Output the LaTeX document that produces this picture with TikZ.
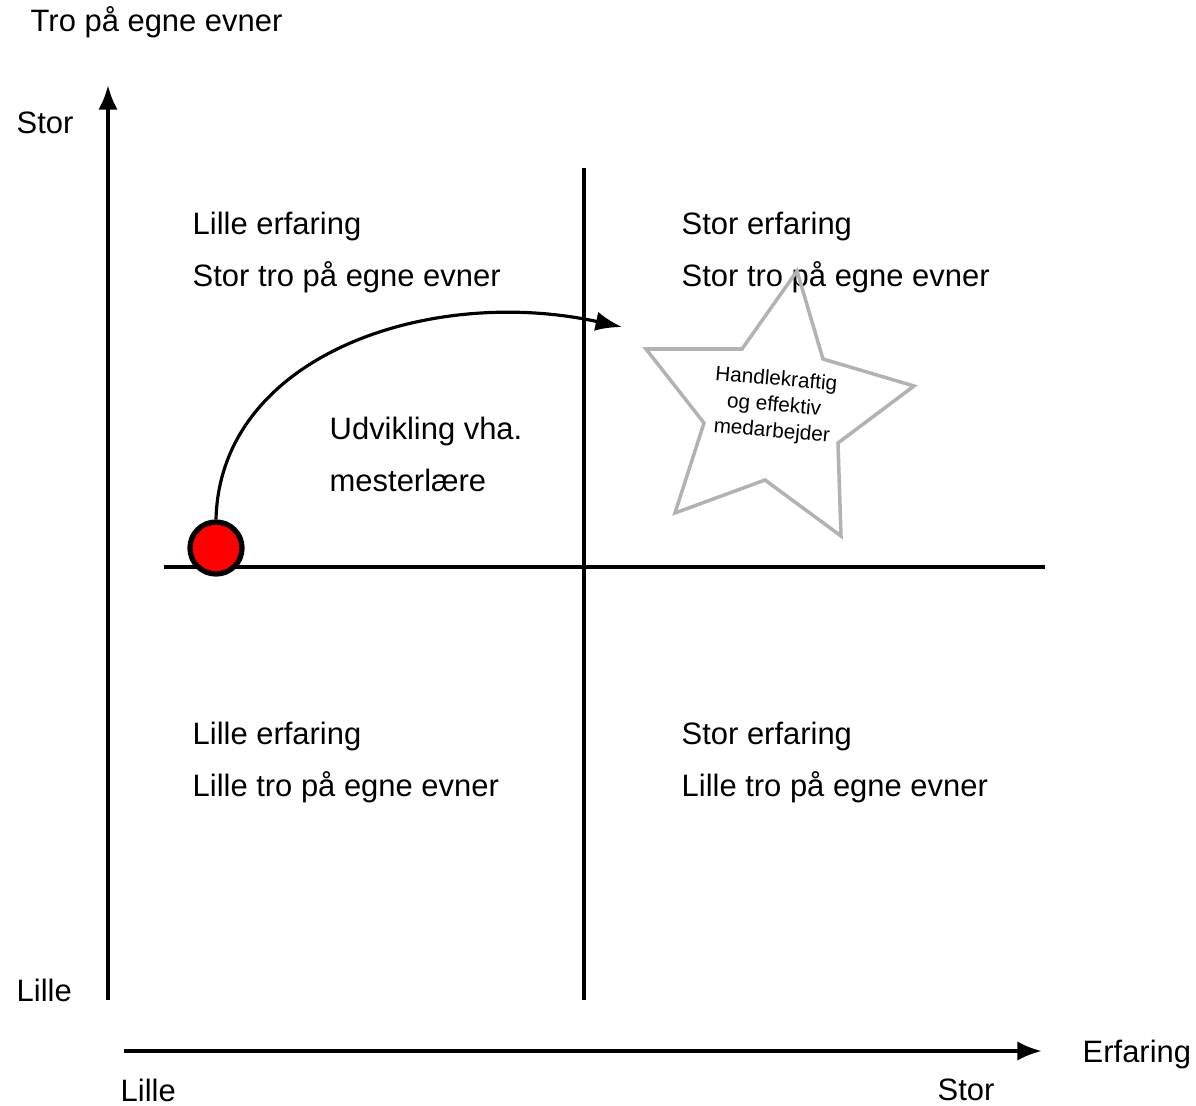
\documentclass[tikz,border=0pt]{standalone}
\usepackage{fontspec}
\setmainfont{Liberation Sans}
\usetikzlibrary{arrows.meta}
\tikzset{
  lbl/.style={inner sep=0pt,font=\fontsize{8.8}{14.8}\selectfont},
  quad/.style={lbl,anchor=north west,align=left},
  axis/.style={line width=1.1pt,-{Latex[length=7pt,width=5.5pt]}},
  divider/.style={line width=1.1pt}
}
\begin{document}
\begin{tikzpicture}[x=0.01cm,y=-0.01cm]
    \useasboundingbox (0,0) rectangle (1196,1106);
    % axes
    \coordinate (yfoot) at (108,1000);
    \coordinate (ytop) at (108,85);
    \coordinate (xfoot) at (124,1051);
    \coordinate (xend) at (1042,1051);
    \draw[axis] (yfoot) -- (ytop);
    \draw[axis] (xfoot) -- (xend);
    \node[lbl,anchor=west] (ytitle) at (30,22) {Tro på egne evner};
    \node[lbl,anchor=west] (ystor) at (16,123) {Stor};
    \node[lbl,anchor=west] (ylille) at (16,990) {Lille};
    \node[lbl,anchor=west] (xlille) at (120,1090) {Lille};
    \node[lbl,anchor=west] (xstor) at (937,1090) {Stor};
    \node[lbl,anchor=west] (xtitle) at (1082,1054) {Erfaring};
    % quadrant lines
    \coordinate (vtop) at (584,168);
    \coordinate (vfoot) at (584,1000);
    \coordinate (hleft) at (164,567);
    \coordinate (hright) at (1045,567);
    \draw[divider] (vtop) -- (vfoot);
    \draw[divider] (hleft) -- (hright);
    % quadrant texts
    \node[quad] (q1) at (192,211) {Lille erfaring\\Stor tro på egne evner};
    \node[quad] (q2) at (681,211) {Stor erfaring\\Stor tro på egne evner};
    \node[quad] (q3) at (192,721) {Lille erfaring\\Lille tro på egne evner};
    \node[quad] (q4) at (681,721) {Stor erfaring\\Lille tro på egne evner};
    \node[quad] (udv) at (329,416) {Udvikling vha.\\mesterlære};
    % star
    \draw[gray!60,line width=1pt,line join=miter] (797,271) -- (823,359) -- (914,386) -- (838,443)
        -- (841,536) -- (765,480) -- (675,513) -- (704,423) -- (646,349) -- (742,349) -- cycle;
    \node[inner sep=0pt,align=center,rotate=-5,font=\fontsize{5.9}{7.4}\selectfont] (goal)
        at (774,406) {Handlekraftig\\og effektiv\\medarbejder};
    % start point and path
    \node[circle,draw=black,fill=red,line width=1.5pt,minimum size=0.52cm,inner sep=0pt] (dot) at (216,548) {};
    \coordinate (arrowend) at (622,327);
    \draw[line width=0.9pt,-{Latex[length=7.5pt,width=5.5pt]}] (dot.north) .. controls (220,355) and (430,285) .. (arrowend);
\end{tikzpicture}
\end{document}
